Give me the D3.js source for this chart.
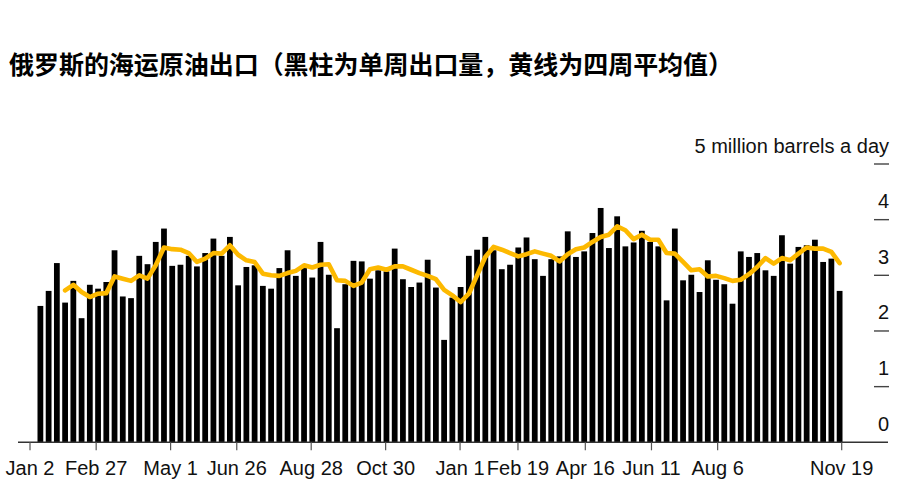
<!DOCTYPE html>
<html>
<head>
<meta charset="utf-8">
<script src="https://cdn.jsdelivr.net/npm/d3@7"></script>
<style>
  html, body { margin: 0; padding: 0; background: #fff; }
  svg { display: block; }
  .lat { font-family: "Liberation Sans", Arial, sans-serif; }
</style>
</head>
<body>
<div id="chart"></div>
<script>
// ---------- DATA ----------
const title = "俄罗斯的海运原油出口（黑柱为单周出口量，黄线为四周平均值）";
const unitLabel = "5 million barrels a day";

// weekly seaborne crude exports (million barrels a day), one per week
const weeklyExports = [
  2.45, 2.72, 3.22, 2.51, 2.90, 2.23, 2.83, 2.76, 2.88, 3.45,
  2.62, 2.59, 3.35, 3.20, 3.60, 3.84, 3.17, 3.19, 3.35, 3.16,
  3.40, 3.66, 3.35, 3.69, 2.82, 3.15, 3.18, 2.81, 2.76, 3.13,
  3.45, 2.99, 3.13, 2.96, 3.60, 3.01, 2.05, 2.84, 3.26, 3.25,
  2.94, 3.09, 3.07, 3.48, 2.93, 2.79, 2.87, 3.28, 2.78, 1.84,
  2.60, 2.79, 3.35, 3.46, 3.69, 3.45, 3.11, 3.19, 3.50, 3.68,
  3.29, 2.99, 3.29, 3.34, 3.79, 3.33, 3.43, 3.76, 4.21, 3.49,
  4.06, 3.52, 3.59, 3.80, 3.60, 3.52, 2.55, 3.84, 2.91, 3.01,
  2.70, 3.27, 2.92, 2.84, 2.49, 3.43, 3.33, 3.40, 3.09, 2.99,
  3.72, 3.21, 3.51, 3.54, 3.64, 3.24, 3.30, 2.72
];

// four-week average as drawn (first three weeks have no value)
const fourWeekAvg = [
  null, null, null,
  2.73, 2.83, 2.70, 2.61, 2.67, 2.68, 2.98, 2.94, 2.90, 3.00,
  2.94, 3.18, 3.50, 3.47, 3.46, 3.40, 3.24, 3.30, 3.40, 3.39,
  3.54, 3.37, 3.27, 3.24, 3.03, 3.00, 2.99, 3.04, 3.08, 3.18,
  3.14, 3.19, 3.20, 2.91, 2.90, 2.81, 2.87, 3.11, 3.14, 3.10,
  3.16, 3.16, 3.10, 3.04, 2.99, 2.93, 2.74, 2.64, 2.52, 2.67,
  3.00, 3.33, 3.51, 3.46, 3.40, 3.34, 3.38, 3.43, 3.39, 3.35,
  3.25, 3.38, 3.47, 3.50, 3.60, 3.69, 3.73, 3.88, 3.81, 3.65,
  3.73, 3.64, 3.64, 3.40, 3.39, 3.24, 3.09, 3.11, 2.98, 2.99,
  2.95, 2.90, 2.92, 3.02, 3.15, 3.31, 3.21, 3.31, 3.27, 3.39,
  3.50, 3.48, 3.48, 3.42, 3.22
];

const weekCategories = d3.range(weeklyExports.length);

const tickDates = ["2019-01-02","2019-02-27","2019-05-01","2019-06-26","2019-08-28","2019-10-30",
                   "2020-01-01","2020-02-19","2020-04-16","2020-06-11","2020-08-06","2020-11-19"];
const tickLabels = ["Jan 2","Feb 27","May 1","Jun 26","Aug 28","Oct 30",
                    "Jan 1","Feb 19","Apr 16","Jun 11","Aug 6","Nov 19"];

const yTickValues = [0, 1, 2, 3, 4, 5];

// ---------- DRAW ----------
const W = 923, H = 496;
const svg = d3.select("#chart").append("svg").attr("width", W).attr("height", H);

const parse = d3.utcParse("%Y-%m-%d");
const dates = tickDates.map(parse);

const x = d3.scaleBand().domain(weekCategories).range([37.5, 842.5]).paddingInner(0.3).paddingOuter(0);
const xTime = d3.scaleUtc().domain([dates[0], dates[dates.length - 1]]).range([30, 841.7]);
const y = d3.scaleLinear().domain([0, 5]).range([442.3, 164]);

// title
svg.append("text")
  .attr("x", 9).attr("y", 74)
  .attr("font-family", "'Noto Sans CJK SC', sans-serif")
  .attr("font-weight", 700)
  .attr("font-size", 25)
  .attr("textLength", 724)
  .attr("lengthAdjust", "spacingAndGlyphs")
  .attr("fill", "#000")
  .text(title);

// bars
svg.append("g").selectAll("rect")
  .data(weeklyExports)
  .join("rect")
  .attr("x", (d, i) => x(i))
  .attr("width", x.bandwidth())
  .attr("y", d => y(d))
  .attr("height", d => y(0) - y(d))
  .attr("fill", "#000");

// 4-week average line
const line = d3.line()
  .defined(d => d != null)
  .x((d, i) => x(i) + x.bandwidth() / 2)
  .y(d => y(d))
  .curve(d3.curveLinear);

svg.append("path")
  .datum(fourWeekAvg)
  .attr("d", line)
  .attr("fill", "none")
  .attr("stroke", "#fdb900")
  .attr("stroke-width", 4.6)
  .attr("stroke-linejoin", "round")
  .attr("stroke-linecap", "round");

// x axis baseline + ticks
svg.append("line")
  .attr("x1", 18).attr("x2", 888)
  .attr("y1", y(0)).attr("y2", y(0))
  .attr("stroke", "#333").attr("stroke-width", 1.4);

const xg = svg.append("g").attr("class", "lat");
xg.selectAll("line.tick")
  .data(dates)
  .join("line")
  .attr("class", "tick")
  .attr("x1", d => xTime(d)).attr("x2", d => xTime(d))
  .attr("y1", y(0)).attr("y2", y(0) + 8)
  .attr("stroke", "#555").attr("stroke-width", 1.2);
xg.selectAll("text")
  .data(dates)
  .join("text")
  .attr("x", d => xTime(d))
  .attr("y", 475)
  .attr("text-anchor", "middle")
  .attr("font-size", 20)
  .attr("fill", "#111")
  .text((d, i) => tickLabels[i]);

// y axis (right side): dashes and labels above them
const yg = svg.append("g").attr("class", "lat");
yg.selectAll("line")
  .data(yTickValues.filter(v => v > 0))
  .join("line")
  .attr("x1", 874).attr("x2", 889)
  .attr("y1", d => y(d)).attr("y2", d => y(d))
  .attr("stroke", "#444").attr("stroke-width", 1.4);
yg.selectAll("text")
  .data(yTickValues)
  .join("text")
  .attr("x", 889)
  .attr("y", d => y(d) - 11.5)
  .attr("text-anchor", "end")
  .attr("font-size", 20)
  .attr("fill", "#111")
  .text(d => d === 5 ? unitLabel : String(d));
</script>
</body>
</html>
